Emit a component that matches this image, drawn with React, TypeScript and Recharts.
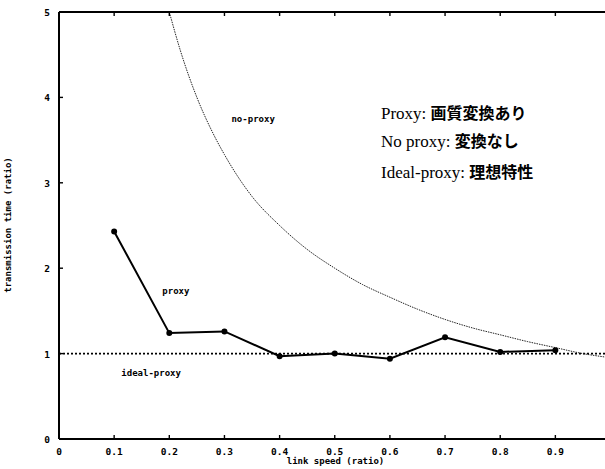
import { LineChart, Line, XAxis, YAxis, ReferenceDot } from 'recharts'

// x positions (link speed ratio)
const xTicks = [0, 0.1, 0.2, 0.3, 0.4, 0.5, 0.6, 0.7, 0.8, 0.9]
const yTicks = [0, 1, 2, 3, 4, 5]

// proxy: measured points
const proxySpeed = [0.1, 0.2, 0.3, 0.4, 0.5, 0.6, 0.7, 0.8, 0.9]
const proxyTime = [2.43, 1.24, 1.26, 0.97, 1.0, 0.94, 1.19, 1.02, 1.04]

// no-proxy curve
const noProxySpeed = [0.2, 0.22, 0.25, 0.28, 0.3, 0.35, 0.4, 0.45, 0.5, 0.55, 0.6, 0.65, 0.7, 0.75, 0.8, 0.85, 0.9, 0.95, 0.99]
const noProxyTime = [5.0, 4.55, 4.0, 3.57, 3.33, 2.84, 2.5, 2.22, 2.0, 1.81, 1.66, 1.52, 1.4, 1.3, 1.22, 1.14, 1.07, 1.0, 0.96]

// ideal-proxy
const idealSpeed = [0, 0.99]
const idealTime = [1, 1]

const proxyData = proxySpeed.map((x, i) => ({ x, y: proxyTime[i] }))
const noProxyData = noProxySpeed.map((x, i) => ({ x, y: noProxyTime[i] }))
const idealData = idealSpeed.map((x, i) => ({ x, y: idealTime[i] }))

const W = 605
const H = 469
const M = { top: 12, left: 59, bottom: 30 }
const plotH = H - M.top - M.bottom

const mono = '"DejaVu Sans Mono", monospace'

const fmtX = (v: number) => (v === 0 ? '0' : v.toFixed(1))

// bottom tick: inward mark on the x axis and on the top frame, plus label
const BottomTick = (props: any) => {
  const { x, y, payload } = props
  const top = y - plotH
  return (
    <g>
      {payload.value !== 0 && (
        <>
          <line x1={x} y1={y} x2={x} y2={y - 4} stroke="#000" strokeWidth={1.4} />
          <line x1={x} y1={top} x2={x} y2={top + 4} stroke="#000" strokeWidth={1.4} />
        </>
      )}
      <text x={x} y={y + 16} textAnchor="middle" fontFamily={mono} fontWeight="bold" fontSize={9.5} fill="#000">
        {fmtX(payload.value)}
      </text>
    </g>
  )
}

const LeftTick = (props: any) => {
  const { x, y, payload } = props
  return (
    <g>
      {payload.value !== 0 && <line x1={x} y1={y} x2={x + 4} y2={y} stroke="#000" strokeWidth={1.4} />}
      <text x={x - 9} y={y + 4} textAnchor="end" fontFamily={mono} fontWeight="bold" fontSize={9.5} fill="#000">
        {payload.value}
      </text>
    </g>
  )
}

const plotLabel = (value: string) => ({
  value,
  position: 'center' as const,
  fontFamily: mono,
  fontWeight: 'bold',
  fontSize: 9,
  fill: '#000',
})

const legendRow: React.CSSProperties = {
  position: 'absolute',
  left: 381,
  fontFamily: '"Liberation Serif", serif',
  fontSize: 17,
  whiteSpace: 'nowrap',
  color: '#000',
}
const cjk: React.CSSProperties = { fontFamily: '"Noto Sans CJK JP", sans-serif', fontWeight: 'bold', fontSize: 16 }

export default function App() {
  return (
    <div style={{ position: 'absolute', left: 0, top: 0, width: W, height: H, background: '#fff' }}>
      {/* top frame of the plot area */}
      <div
        style={{
          position: 'absolute',
          left: M.left,
          top: M.top - 1,
          width: W - M.left,
          height: 0,
          borderTop: '2px solid #000',
        }}
      />
      <LineChart width={W} height={H} margin={{ top: M.top, right: 0, bottom: 0, left: 0 }}>
        <XAxis
          type="number"
          dataKey="x"
          domain={[0, 0.99]}
          ticks={xTicks}
          height={M.bottom}
          tickSize={0}
          tickMargin={0}
          tick={<BottomTick />}
          tickLine={false}
          stroke="#000"
          strokeWidth={2}
        />
        <YAxis
          type="number"
          dataKey="y"
          domain={[0, 5]}
          ticks={yTicks}
          width={M.left}
          tickSize={0}
          tickMargin={0}
          tick={<LeftTick />}
          tickLine={false}
          stroke="#000"
          strokeWidth={2}
        />
        <Line
          data={idealData}
          dataKey="y"
          type="linear"
          stroke="#000"
          strokeWidth={1.6}
          strokeDasharray="2 2"
          dot={false}
          isAnimationActive={false}
        />
        <Line
          data={noProxyData}
          dataKey="y"
          type="monotone"
          stroke="#222"
          strokeWidth={1}
          strokeDasharray="1.5 1"
          dot={false}
          isAnimationActive={false}
        />
        <Line
          data={proxyData}
          dataKey="y"
          type="linear"
          stroke="#000"
          strokeWidth={2}
          dot={{ r: 2, fill: '#000', stroke: '#000' }}
          isAnimationActive={false}
        />
        <ReferenceDot x={0.352} y={3.75} r={0} stroke="none" label={plotLabel('no-proxy')} />
        <ReferenceDot x={0.212} y={1.74} r={0} stroke="none" label={plotLabel('proxy')} />
        <ReferenceDot x={0.167} y={0.78} r={0} stroke="none" label={plotLabel('ideal-proxy')} />
      </LineChart>

      <div style={{ ...legendRow, top: 100 }}>
        Proxy: <span style={cjk}>画質変換あり</span>
      </div>
      <div style={{ ...legendRow, top: 128 }}>
        No proxy: <span style={cjk}>変換なし</span>
      </div>
      <div style={{ ...legendRow, top: 159 }}>
        Ideal-proxy: <span style={cjk}>理想特性</span>
      </div>

      <div
        style={{
          position: 'absolute',
          left: 0,
          width: W,
          top: 456,
          paddingLeft: 66,
          textAlign: 'center',
          fontFamily: mono,
          fontWeight: 'bold',
          fontSize: 9,
          boxSizing: 'border-box',
        }}
      >
        link speed (ratio)
      </div>
      <div
        style={{
          position: 'absolute',
          left: 8,
          top: 225,
          transform: 'translate(-50%, -50%) rotate(-90deg)',
          fontFamily: mono,
          fontWeight: 'bold',
          fontSize: 9,
          whiteSpace: 'nowrap',
        }}
      >
        transmission time (ratio)
      </div>
    </div>
  )
}
